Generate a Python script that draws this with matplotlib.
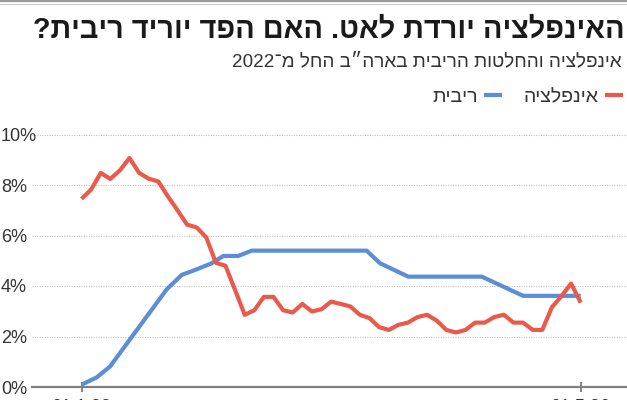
import re
import matplotlib
matplotlib.use('Agg')
import matplotlib.pyplot as plt
from matplotlib.lines import Line2D

plt.rcParams['font.family'] = ['Liberation Sans Narrow', 'Liberation Sans', 'DejaVu Sans']

# ---------------- data ----------------
title = 'האינפלציה יורדת לאט. האם הפד יוריד ריבית?'
subtitle = 'אינפלציה והחלטות הריבית בארה״ב החל מ־2022'
label_inflation = 'אינפלציה'
label_rate = 'ריבית'

months = list(range(53))
inflation = [7.45, 7.82, 8.48, 8.24, 8.58, 9.07, 8.48, 8.25, 8.14, 7.55,
             7.00, 6.43, 6.32, 5.92, 4.92, 4.80, 3.84, 2.86, 3.04, 3.57,
             3.57, 3.04, 2.95, 3.29, 2.99, 3.08, 3.38, 3.29, 3.19, 2.86,
             2.73, 2.37, 2.26, 2.46, 2.55, 2.77, 2.86, 2.63, 2.26, 2.16,
             2.26, 2.55, 2.55, 2.77, 2.86, 2.55, 2.55, 2.26, 2.26, 3.16,
             3.60, 4.10, 3.34]

rate_x = [0, 1.58, 2.97, 8.88, 10.44, 12.0, 13.56, 14.77, 16.33, 17.73,
          29.7, 31.1, 34.04, 41.7, 46.0, 52.0]
rate = [0.09, 0.38, 0.81, 3.87, 4.44, 4.66, 4.90, 5.19, 5.19, 5.40,
        5.40, 4.90, 4.37, 4.37, 3.61, 3.61]

ytick_vals = [0, 2, 4, 6, 8, 10]
ytick_labels = ['0%', '2%', '4%', '6%', '8%', '10%']
xtick_pos = [0, 52]
xtick_labels = ['01.1.22', '01.5.26']

RED = '#ea5a4c'
BLUE = '#5b8ed6'


def heb(s):
    """visual (left-to-right) order for Hebrew text, keeping digit runs."""
    return ''.join(reversed(re.findall(r'\d+|\D', s)))


W, H = 627, 400
fig = plt.figure(figsize=(W / 100, H / 100), dpi=100)
fig.patch.set_facecolor('white')

# axes: 0% at y=387px (from top), 25.25 px per 1%
px_per_unit = 25.25
ymax = 10.5
ax = fig.add_axes([32 / W, 13 / H, 595 / W, ymax * px_per_unit / H])
ax.set_xlim((32 - 81.5) / 9.6, (627 - 81.5) / 9.6)
ax.set_ylim(0, ymax)

ax.plot(rate_x, rate, color=BLUE, lw=3.0, solid_capstyle='butt',
        solid_joinstyle='round', label=heb(label_rate), zorder=3)
ax.plot(months, inflation, color=RED, lw=3.0, solid_capstyle='butt',
        solid_joinstyle='round', label=heb(label_inflation), zorder=4)

for s in ['top', 'right', 'left']:
    ax.spines[s].set_visible(False)
ax.spines['bottom'].set_color('#808080')
ax.spines['bottom'].set_linewidth(1.6)

ax.set_yticks(ytick_vals[1:])
ax.yaxis.grid(True, linestyle=(0, (1, 1.2)), color='#c4c4c4', lw=0.8)
ax.set_yticks(ytick_vals, ytick_labels)
ax.tick_params(axis='y', length=0, pad=22.3, labelsize=13, labelcolor='#333333')
for lbl in ax.get_yticklabels():
    lbl.set_horizontalalignment('left')
ax.set_axisbelow(True)

ax.set_xticks(xtick_pos, xtick_labels)
ax.tick_params(axis='x', direction='inout', length=7, width=1.2, color='#707070',
               pad=5.2, labelsize=13, labelcolor='#333333')

# top double rule
fig.add_artist(Line2D([0, 1], [1 - 1.2 / H, 1 - 1.2 / H], transform=fig.transFigure,
                      color='#9a9a9a', lw=1.6))
fig.add_artist(Line2D([0, 1], [1 - 4.2 / H, 1 - 4.2 / H], transform=fig.transFigure,
                      color='#c8c8c8', lw=0.8))

# title / subtitle
t = fig.text(625 / W, 1 - 38 / H, heb(title), ha='right', va='baseline',
             fontsize=18, fontweight='heavy', color='#1a1a1a')
st = fig.text(622 / W, 1 - 66 / H, heb(subtitle), ha='right', va='baseline',
              fontsize=15, fontweight='light', color='#333333')

fig.canvas.draw()
r = fig.canvas.get_renderer()
for txt, target in [(t, 590), (st, 390)]:
    w = txt.get_window_extent(r).width
    txt.set_fontsize(txt.get_fontsize() * target / w)

# legend (RTL: text left of handle)
h, l = ax.get_legend_handles_labels()
leg = fig.legend(h, l, loc='center right', bbox_to_anchor=(623 / W, 1 - 97 / H),
                 ncol=2, frameon=False, markerfirst=False, fontsize=14,
                 handlelength=0.95, handletextpad=0.3, columnspacing=1.1,
                 borderpad=0, borderaxespad=0)
for txt in leg.get_texts():
    txt.set_color('#333333')

fig.savefig('out.png', dpi=100, facecolor='white')
